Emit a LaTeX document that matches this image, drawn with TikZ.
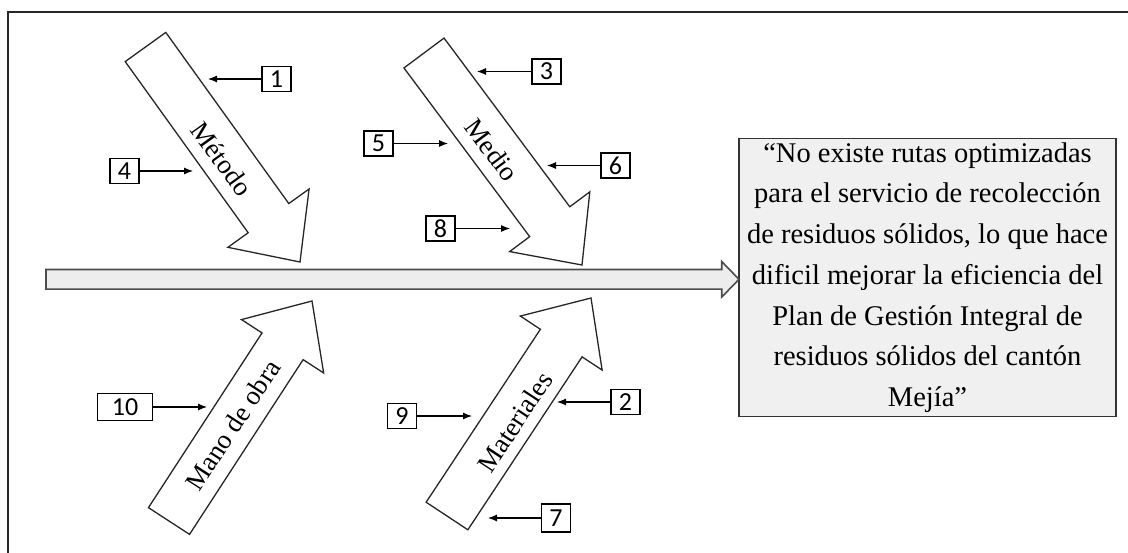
\documentclass[tikz,border=0pt]{standalone}
\usepackage{fontspec}
\setmainfont{Liberation Serif}
\newfontfamily\timesfont{Liberation Serif}
\newfontfamily\numfont{Carlito}
\usetikzlibrary{calc,arrows.meta}
\tikzset{
 catarrow/.style={draw=black!85, line width=1.3pt, fill=white},
 spine/.style={draw=black!70, line width=1.6pt, fill=black!7},
 numbox/.style={draw=black, line width=1.2pt, font=\numfont\fontsize{26}{26}\selectfont, minimum width=29pt, minimum height=25pt, inner sep=0pt},
 numarrow/.style={-{Latex[length=9pt,width=7pt]}, line width=1.1pt},
 catlabel/.style={font=\timesfont\fontsize{27}{27}\selectfont, inner sep=0pt},
 probbox/.style={draw=black!80, line width=1.5pt, fill=black!6, minimum width=377pt, minimum height=278pt, align=center, inner sep=0pt, font=\timesfont\fontsize{28.5}{40.7}\selectfont},
 framebox/.style={line width=1.6pt, draw=black!85}
}
\newcommand{\fisharrow}[4]{% #1 tail, #2 tip, #3 half body, #4 half head
  \coordinate (S) at ($(#2)!54pt!(#1)$);
  \draw[catarrow] ($(#1)!#3!90:(#2)$) -- ($(S)!#3!90:(#2)$) -- ($(S)!#4!90:(#2)$) -- (#2)
    -- ($(S)!#4!-90:(#2)$) -- ($(S)!#3!-90:(#2)$) -- ($(#1)!#3!-90:(#2)$) -- cycle;
}
\begin{document}
\begin{tikzpicture}[x=1pt,y=-1pt]
\useasboundingbox (0,0) rectangle (1128,552);
% frame (cut off at right and bottom)
\draw[framebox] (1130,12) -- (8,12) -- (8,554);

% problem box
\node[probbox] (prob) at (927.5,277.5) {\timesfont “No existe rutas optimizadas\\ \timesfont para el servicio de recolección\\ \timesfont de residuos sólidos, lo que hace\\ \timesfont dificil mejorar la eficiencia del\\ \timesfont Plan de Gestión Integral de\\ \timesfont residuos sólidos del cantón\\ \timesfont Mejía”};

% spine
\coordinate (spT) at (46,279.3);
\coordinate (spP) at (739,279.3);
\draw[spine] (46,269.5) -- (721.7,269.5) -- (721.7,261.5) -- (spP) -- (721.7,297.1) -- (721.7,289.1) -- (46,289.1) -- cycle;

% category arrows
\coordinate (metT) at (145.5,47);  \coordinate (metP) at (300,262);
\coordinate (medT) at (424,53);    \coordinate (medP) at (582,265);
\coordinate (manT) at (169,521);   \coordinate (manP) at (312,301);
\coordinate (matT) at (447,516);   \coordinate (matP) at (591,298);
\fisharrow{metT}{metP}{25pt}{50pt}
\fisharrow{medT}{medP}{25pt}{50pt}
\fisharrow{manT}{manP}{24.5pt}{49pt}
\fisharrow{matT}{matP}{25pt}{49pt}

\node[catlabel, rotate=-54.3] (met) at (222,159) {\timesfont Método};
\node[catlabel, rotate=-53.3] (med) at (492,150) {\timesfont Medio};
\node[catlabel, rotate=57] (man) at (233,425) {\timesfont Mano de obra};
\node[catlabel, rotate=56.7] (mat) at (515,422) {\timesfont Materiales};

% numbered boxes
\node[numbox] (n1) at (276.5,79) {1};
\node[numbox] (n4) at (124.5,171) {4};
\node[numbox] (n5) at (378.5,143.5) {5};
\node[numbox] (n3) at (546.5,71.5) {3};
\node[numbox] (n6) at (615.5,165.5) {6};
\node[numbox] (n8) at (440.5,228.5) {8};
\node[numbox, minimum width=55pt, minimum height=27pt] (n10) at (125,407) {10};
\node[numbox] (n9) at (402,416) {9};
\node[numbox] (n2) at (625.5,402) {2};
\node[numbox, minimum height=28pt] (n7) at (556,518) {7};

\coordinate (t1) at (208,79);
\coordinate (t4) at (193,171);
\coordinate (t5) at (448,143.5);
\coordinate (t3) at (477,71.5);
\coordinate (t6) at (547,165.5);
\coordinate (t8) at (510,228.5);
\coordinate (t10) at (207,407);
\coordinate (t9) at (472,416);
\coordinate (t2) at (557,402);
\coordinate (t7) at (488,518);

\draw[numarrow] (n1.west) -- (t1);
\draw[numarrow] (n4.east) -- (t4);
\draw[numarrow] (n5.east) -- (t5);
\draw[numarrow] (n3.west) -- (t3);
\draw[numarrow] (n6.west) -- (t6);
\draw[numarrow] (n8.east) -- (t8);
\draw[numarrow] (n10.east) -- (t10);
\draw[numarrow] (n9.east) -- (t9);
\draw[numarrow] (n2.west) -- (t2);
\draw[numarrow] (n7.west) -- (t7);
\end{tikzpicture}
\end{document}
